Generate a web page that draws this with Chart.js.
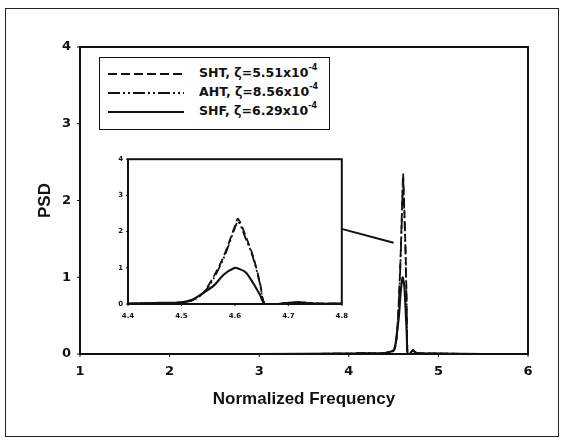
<!DOCTYPE html>
<html>
<head>
<meta charset="utf-8">
<script src="https://cdn.jsdelivr.net/npm/chart.js@4"></script>
<style>
  body { margin: 0; background: #fff; }
  #wrap { position: relative; width: 565px; height: 440px; font-family: "Liberation Sans", Arial, sans-serif; }
  #frame { position: absolute; left: 5px; top: 8px; width: 554px; height: 429px; border: 1px solid #222; box-sizing: border-box; }
  #mainChart { position: absolute; left: 0; top: 0; }
  #insetChart { position: absolute; left: 100px; top: 150px; }
  #legend { position: absolute; left: 99px; top: 57px; width: 231px; height: 73px; border: 1px solid #111; box-sizing: border-box; background: #fff; }
  .row { position: absolute; left: 0; height: 18px; width: 100%; }
  .row svg { position: absolute; left: 8px; top: 4px; }
  .row span { position: absolute; left: 99px; top: 0px; font-family: "DejaVu Sans", sans-serif; font-weight: bold; font-size: 12.5px; color: #111; white-space: nowrap; }
  .row sup { font-size: 8px; vertical-align: 7px; line-height: 0; }
</style>
</head>
<body>
<div id="wrap">
  <div id="frame"></div>
  <canvas id="mainChart" width="565" height="440"></canvas>
  <canvas id="insetChart" width="256" height="170"></canvas>
  <div id="legend">
    <div class="row" style="top:7px"><svg width="76" height="10"><line x1="0" y1="5" x2="76" y2="5" stroke="#111" stroke-width="2" stroke-dasharray="9,4"/></svg><span>SHT, ζ=5.51x10<sup>-4</sup></span></div>
    <div class="row" style="top:26px"><svg width="76" height="10"><line x1="0" y1="5" x2="76" y2="5" stroke="#111" stroke-width="2" stroke-dasharray="12,3,2,3,2,3"/></svg><span>AHT, ζ=8.56x10<sup>-4</sup></span></div>
    <div class="row" style="top:45px"><svg width="76" height="10"><line x1="0" y1="5" x2="76" y2="5" stroke="#111" stroke-width="2.2"/></svg><span>SHF, ζ=6.29x10<sup>-4</sup></span></div>
  </div>
</div>
<script>
// normalized frequency sample points
const freq = [1.0, 2.0, 3.0, 4.0, 4.2, 4.4, 4.46, 4.5, 4.52, 4.54, 4.56, 4.58, 4.6, 4.606, 4.62, 4.634, 4.647, 4.656, 4.68, 4.7, 4.72, 4.735, 4.76, 4.8, 5.0, 5.5, 6.0];
// PSD values per series
const shtPSD = [0, 0, 0, 0.005, 0.01, 0.01, 0.03, 0.04, 0.1, 0.3, 0.75, 1.35, 2.15, 2.35, 1.88, 1.32, 0.58, 0, 0, 0.03, 0.05, 0.03, 0.01, 0.01, 0.005, 0, 0];
const ahtPSD = [0, 0, 0, 0.005, 0.01, 0.01, 0.03, 0.04, 0.1, 0.28, 0.7, 1.3, 2.1, 2.28, 1.82, 1.28, 0.55, 0, 0, 0.03, 0.05, 0.03, 0.01, 0.01, 0.005, 0, 0];
const shfPSD = [0, 0, 0, 0.005, 0.01, 0.01, 0.03, 0.05, 0.12, 0.3, 0.5, 0.82, 1.0, 0.98, 0.88, 0.58, 0.25, 0, 0, 0.03, 0.05, 0.03, 0.01, 0.01, 0.005, 0, 0];
// pointer from inset to the main peak
const pointerX = [3.92, 4.5];
const pointerY = [1.63, 1.45];

const mainTicksX = [1, 2, 3, 4, 5, 6];
const mainTicksY = [0, 1, 2, 3, 4];
const insetTicksX = [4.4, 4.5, 4.6, 4.7, 4.8];
const insetTicksY = [0, 1, 2, 3, 4];

function pts(xs, ys) {
    return xs.map((x, i) => ({ x: x, y: ys[i] }));
}

function seriesSets(width) {
    return [
        { label: 'SHT', data: pts(freq, shtPSD), borderColor: '#111', borderWidth: width, borderDash: [8, 4], pointRadius: 0, tension: 0.3 },
        { label: 'AHT', data: pts(freq, ahtPSD), borderColor: '#111', borderWidth: width, borderDash: [10, 3, 2, 3, 2, 3], pointRadius: 0, tension: 0.3 },
        { label: 'SHF', data: pts(freq, shfPSD), borderColor: '#111', borderWidth: width + 0.3, pointRadius: 0, tension: 0.3 }
    ];
}

// box around the plot area plus short outward tick marks
const frameTicks = {
    id: 'frameTicks',
    afterDraw(chart, args, opts) {
        const ctx = chart.ctx;
        const a = chart.chartArea;
        ctx.save();
        ctx.strokeStyle = '#111';
        ctx.lineWidth = opts.width;
        ctx.strokeRect(a.left, a.top, a.right - a.left, a.bottom - a.top);
        ctx.lineWidth = 1;
        ctx.beginPath();
        chart.scales.x.ticks.forEach(t => {
            const px = chart.scales.x.getPixelForValue(t.value);
            ctx.moveTo(px, a.bottom);
            ctx.lineTo(px, a.bottom + opts.len);
        });
        chart.scales.y.ticks.forEach(t => {
            const py = chart.scales.y.getPixelForValue(t.value);
            ctx.moveTo(a.left, py);
            ctx.lineTo(a.left - opts.len, py);
        });
        ctx.stroke();
        ctx.restore();
    }
};

function fixedTicks(list) {
    return function(scale) {
        scale.ticks = list.map(v => ({ value: v }));
    };
}

const tickFont = { family: 'DejaVu Sans', weight: 'bold', size: 13 };

new Chart(document.getElementById('mainChart'), {
    type: 'line',
    data: {
        datasets: seriesSets(1.8).concat([
            { label: 'pointer', data: pts(pointerX, pointerY), borderColor: '#111', borderWidth: 2, pointRadius: 0 }
        ])
    },
    options: {
        responsive: false,
        animation: false,
        layout: { padding: { left: 0, top: 47, right: 37, bottom: 0 } },
        plugins: { legend: { display: false }, tooltip: { enabled: false }, frameTicks: { width: 2, len: 3 } },
        scales: {
            x: {
                type: 'linear', min: 1, max: 6,
                afterBuildTicks: fixedTicks(mainTicksX),
                afterFit: s => { s.height = 86; },
                grid: { display: false, drawTicks: false },
                border: { display: false },
                ticks: { color: '#111', font: tickFont, padding: 10 },
                title: { display: true, text: 'Normalized Frequency', color: '#111', font: { family: 'Liberation Sans', weight: 'bold', size: 17 }, padding: { top: 0, bottom: 30 } }
            },
            y: {
                type: 'linear', min: 0, max: 4,
                afterBuildTicks: fixedTicks(mainTicksY),
                afterFit: s => { s.width = 80; },
                grid: { display: false, drawTicks: false },
                border: { display: false },
                ticks: { color: '#111', font: tickFont, padding: 9 },
                title: { display: true, text: 'PSD', color: '#111', font: { family: 'Liberation Sans', weight: 'bold', size: 17 }, padding: { top: 35, bottom: 0 } }
            }
        }
    },
    plugins: [frameTicks]
});

const insetFont = { family: 'DejaVu Sans', weight: 'bold', size: 7 };

new Chart(document.getElementById('insetChart'), {
    type: 'line',
    data: { datasets: seriesSets(1.8) },
    options: {
        responsive: false,
        animation: false,
        layout: { padding: { left: 0, top: 9, right: 4, bottom: 0 } },
        plugins: { legend: { display: false }, tooltip: { enabled: false }, frameTicks: { width: 2, len: 2 } },
        scales: {
            x: {
                type: 'linear', min: 4.4, max: 4.8,
                afterBuildTicks: fixedTicks(insetTicksX),
                afterFit: s => { s.height = 16; },
                grid: { display: false, drawTicks: false },
                border: { display: false },
                ticks: { color: '#111', font: insetFont, padding: 8, callback: v => v.toFixed(1) }
            },
            y: {
                type: 'linear', min: 0, max: 4,
                afterBuildTicks: fixedTicks(insetTicksY),
                afterFit: s => { s.width = 28; },
                grid: { display: false, drawTicks: false },
                border: { display: false },
                ticks: { color: '#111', font: insetFont, padding: 5 }
            }
        }
    },
    plugins: [frameTicks]
});
</script>
</body>
</html>
